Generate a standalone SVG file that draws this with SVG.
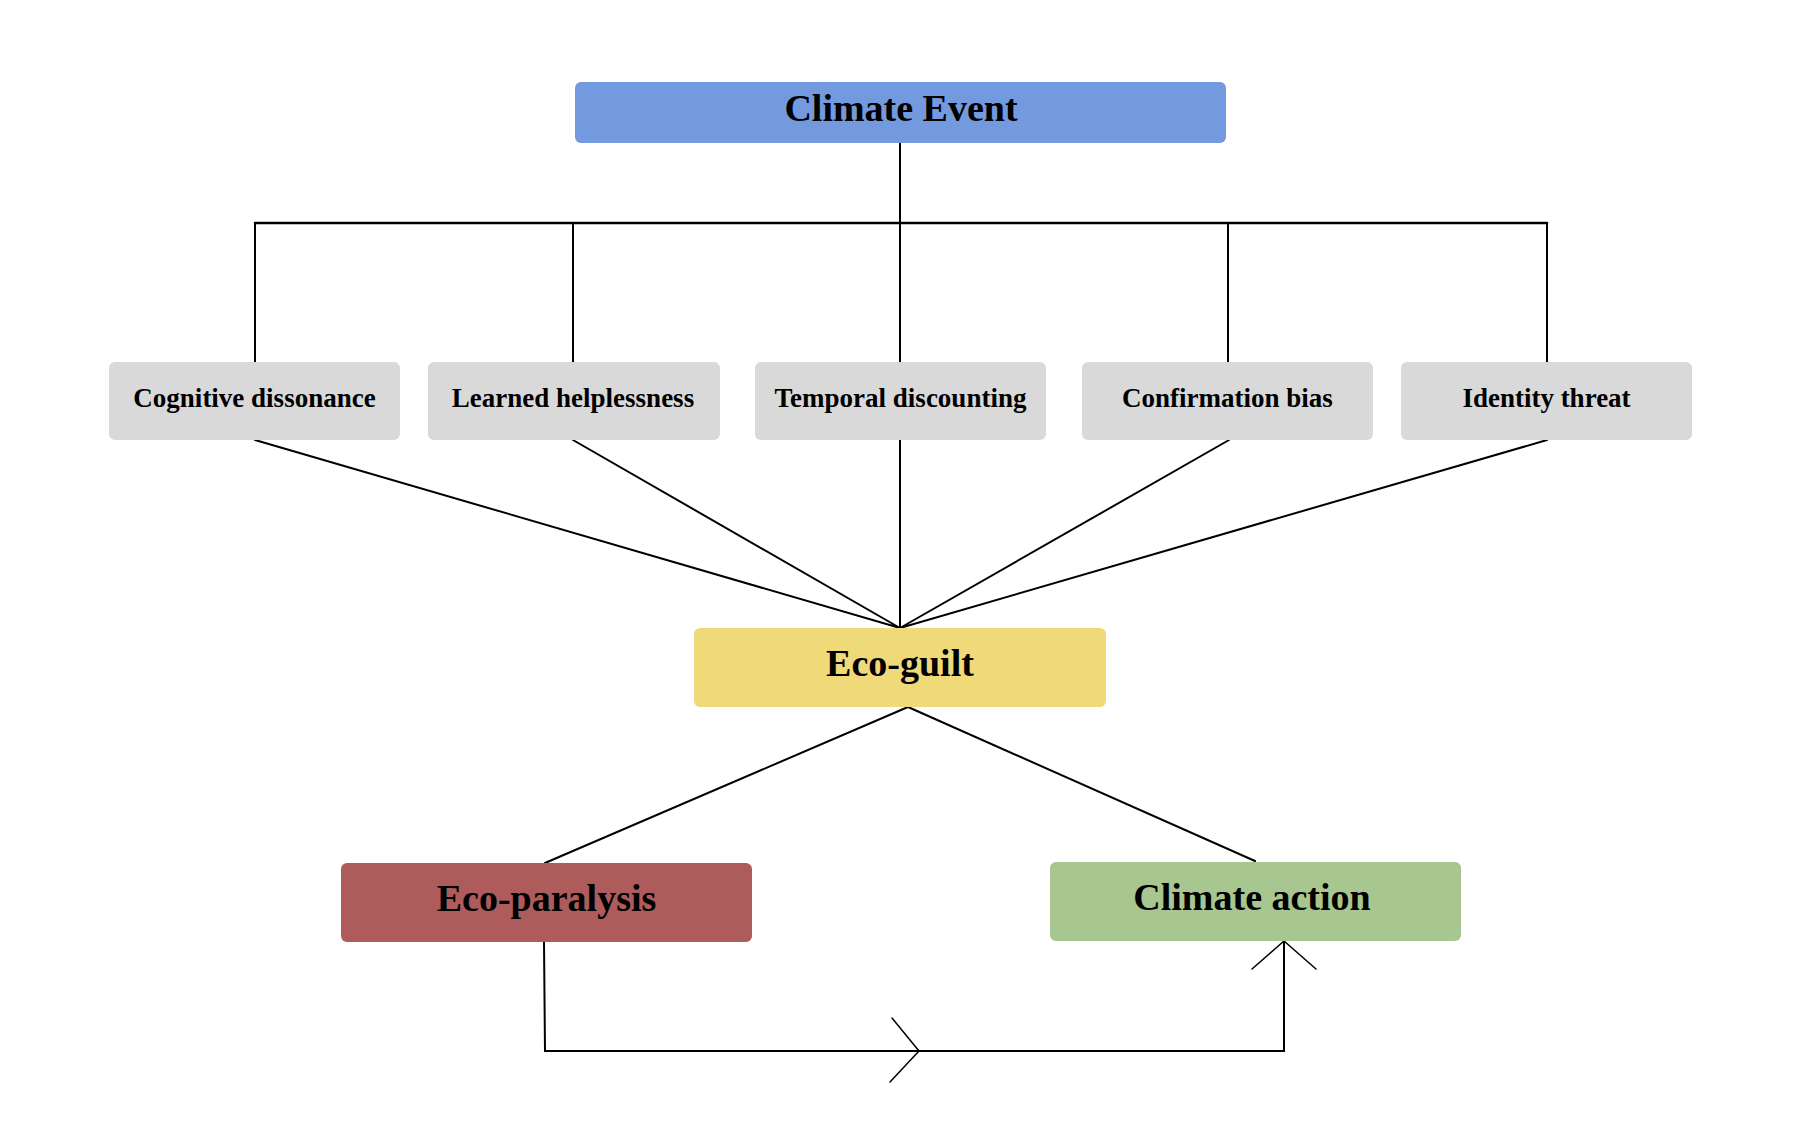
<svg xmlns="http://www.w3.org/2000/svg" width="1794" height="1128" viewBox="0 0 1794 1128">
<style>
.lbl{font-family:"Liberation Serif","Times New Roman",serif;font-weight:bold;fill:#000;text-anchor:middle}
.big{font-size:38px}
.small{font-size:27px}
.bias{fill:#d9d9d9}
.conn{fill:none;stroke:#000;stroke-width:2;stroke-linecap:round;stroke-linejoin:miter}
</style>
<rect width="1794" height="1128" fill="#fff"/>
<g id="connectors">
<path class="conn" d="M900,143 V223"/>
<path class="conn" d="M255,223 H1547" style="stroke-width:2.5"/>
<path class="conn" d="M255,223 V362 M573,223 V362 M900,223 V362 M1228,223 V362 M1547,223 V362"/>
<path class="conn" d="M255,440 L900,628 M573,440 L900,628 M900,440 L900,628 M1229,440 L900,628 M1547,440 L900,628"/>
<path class="conn" d="M908,707 L545,863 M908,707 L1255,861"/>
<path class="conn" d="M544,942 L545,1051 L1284,1051 L1284,941"/>
<path class="conn" d="M892,1018 L919,1051 L890,1082" style="stroke-width:1.5"/>
<path class="conn" d="M1252,969 L1284,941 L1316,969" style="stroke-width:1.5"/>
</g>
<g id="climate-event">
<rect x="575" y="82" width="651" height="61" rx="6" fill="#7399df"/>
<text class="lbl big" x="901" y="121">Climate Event</text>
</g>
<g id="cognitive-dissonance">
<rect class="bias" x="109" y="362" width="291" height="78" rx="6"/>
<text class="lbl small" x="254.5" y="407">Cognitive dissonance</text>
</g>
<g id="learned-helplessness">
<rect class="bias" x="428" y="362" width="292" height="78" rx="6"/>
<text class="lbl small" x="573" y="407">Learned helplessness</text>
</g>
<g id="temporal-discounting">
<rect class="bias" x="755" y="362" width="291" height="78" rx="6"/>
<text class="lbl small" x="900.5" y="407">Temporal discounting</text>
</g>
<g id="confirmation-bias">
<rect class="bias" x="1082" y="362" width="291" height="78" rx="6"/>
<text class="lbl small" x="1227.5" y="407">Confirmation bias</text>
</g>
<g id="identity-threat">
<rect class="bias" x="1401" y="362" width="291" height="78" rx="6"/>
<text class="lbl small" x="1546.5" y="407">Identity threat</text>
</g>
<g id="eco-guilt">
<rect x="694" y="628" width="412" height="79" rx="6" fill="#efd978"/>
<text class="lbl big" x="900" y="676">Eco-guilt</text>
</g>
<g id="eco-paralysis">
<rect x="341" y="863" width="411" height="79" rx="6" fill="#ae5b5b"/>
<text class="lbl big" x="546.5" y="911">Eco-paralysis</text>
</g>
<g id="climate-action">
<rect x="1050" y="862" width="411" height="79" rx="6" fill="#a8c690"/>
<text class="lbl big" x="1252" y="910">Climate action</text>
</g>
</svg>
